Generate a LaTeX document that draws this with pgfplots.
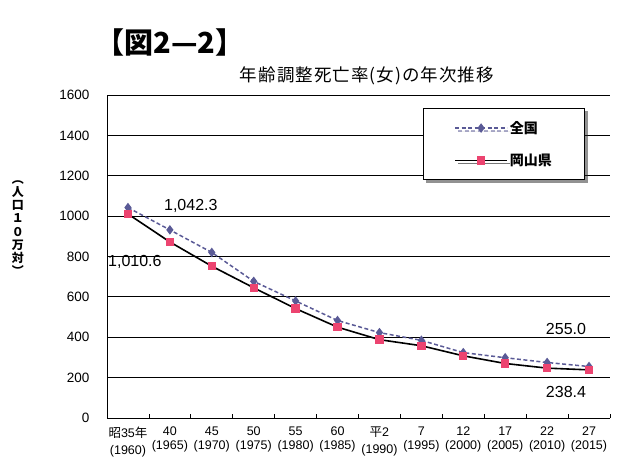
\documentclass[border=0pt]{standalone}
\usepackage{fontspec}
\setmainfont{Liberation Sans}
\newfontfamily\cjk{Noto Sans CJK JP}
\newfontfamily\cjkwide[LetterSpace=6]{Noto Sans CJK JP}
\usepackage{pgfplots}
\pgfplotsset{compat=1.18}
\usetikzlibrary{shadows}
\definecolor{natcol}{RGB}{90,90,150}
\definecolor{okpink}{RGB}{236,68,112}

\pgfplotstableread{
x y
0 1042.3
1 931.8
2 820.1
3 676.8
4 579.8
5 482.9
6 423.0
7 384.7
8 323.9
9 298.6
10 274.9
11 255.0
}\national
\pgfplotstableread{
x y
0 1010.6
1 872
2 752
3 645
4 542
5 450
6 388
7 358
8 308
9 270
10 247
11 238.4
}\okayama

\begin{document}
\begin{tikzpicture}
\useasboundingbox (0,0) rectangle (621pt,461pt);
\node[font=\cjk\bfseries\fontsize{29}{32}\selectfont] at (170pt,419pt) {【図2—2】};
\node[font=\cjkwide\fontsize{17.5}{20}\selectfont] at (367pt,385pt) {年齢調整死亡率(女)の年次推移};
\node[font=\cjk\bfseries\fontsize{12}{13.2}\selectfont, align=center, inner sep=0pt] at (18pt,233pt) {︵\\人\\口\\１\\０\\万\\対\\︶};
\begin{axis}[
  at={(107pt,43pt)}, anchor=south west,
  scale only axis, width=503pt, height=323pt,
  xmin=-0.5, xmax=11.5, ymin=0, ymax=1600,
  xtick={0,...,11},
  xticklabels={
    {{\cjk 昭}35{\cjk 年}\\[3pt](1960)},
    {40\\(1965)},{45\\(1970)},{50\\(1975)},{55\\(1980)},{60\\(1985)},
    {{\cjk 平}2\\[3pt](1990)},
    {7\\(1995)},{12\\(2000)},{17\\(2005)},{22\\(2010)},{27\\(2015)}},
  minor xtick={0.5,1.5,...,11.5},
  ytick={0,200,...,1600},
  axis x line=bottom, axis y line=left,
  axis line style={-, black, line width=0.9pt},
  ymajorgrids, grid style={black, line width=0.9pt},
  major tick length=0pt, minor tick length=4pt,
  tick align=inside,
  minor tick style={black, line width=0.7pt},
  xticklabel style={align=center, font=\fontsize{12.5}{14}\selectfont, yshift=-5pt},
  yticklabel style={font=\fontsize{13.5}{15}\selectfont, xshift=-14pt},
  /pgf/number format/assume math mode=true,
  /pgf/number format/1000 sep={},
  clip=false,
  legend style={at={(0.628,0.96)}, anchor=north west, draw=black, line width=0.8pt,
    fill=white, inner xsep=31pt, inner ysep=11pt, row sep=15pt,
    font=\cjk\bfseries\fontsize{14}{16}\selectfont,
    drop shadow={shadow xshift=3pt, shadow yshift=-3pt, fill=black!85}},
  legend cell align=left,
  legend image code/.code={\draw[mark repeat=2,mark phase=2,#1] plot coordinates {(0pt,0pt) (26pt,0pt) (52pt,0pt)};},
]
\addplot[natcol, line width=1.5pt, dash pattern=on 4pt off 2.5pt,
  mark=diamond*, mark size=3.6pt, mark options={solid, fill=natcol, draw=natcol}]
  table[x=x,y=y] {\national};
\addlegendentry{全国}
\addplot[black, line width=1.6pt,
  mark=square*, mark size=3.4pt, mark options={solid, fill=okpink, draw=okpink}]
  table[x=x,y=y] {\okayama};
\addlegendentry{岡山県}
\node[font=\fontsize{16}{18}\selectfont] at (axis cs:1.5,1052) {1,042.3};
\node[font=\fontsize{16}{18}\selectfont, anchor=west, inner sep=1pt] at (axis cs:-0.5,772) {1,010.6};
\node[font=\fontsize{16}{18}\selectfont] at (axis cs:10.45,440) {255.0};
\node[font=\fontsize{16}{18}\selectfont] at (axis cs:10.45,128) {238.4};
\end{axis}
\end{tikzpicture}
\end{document}
